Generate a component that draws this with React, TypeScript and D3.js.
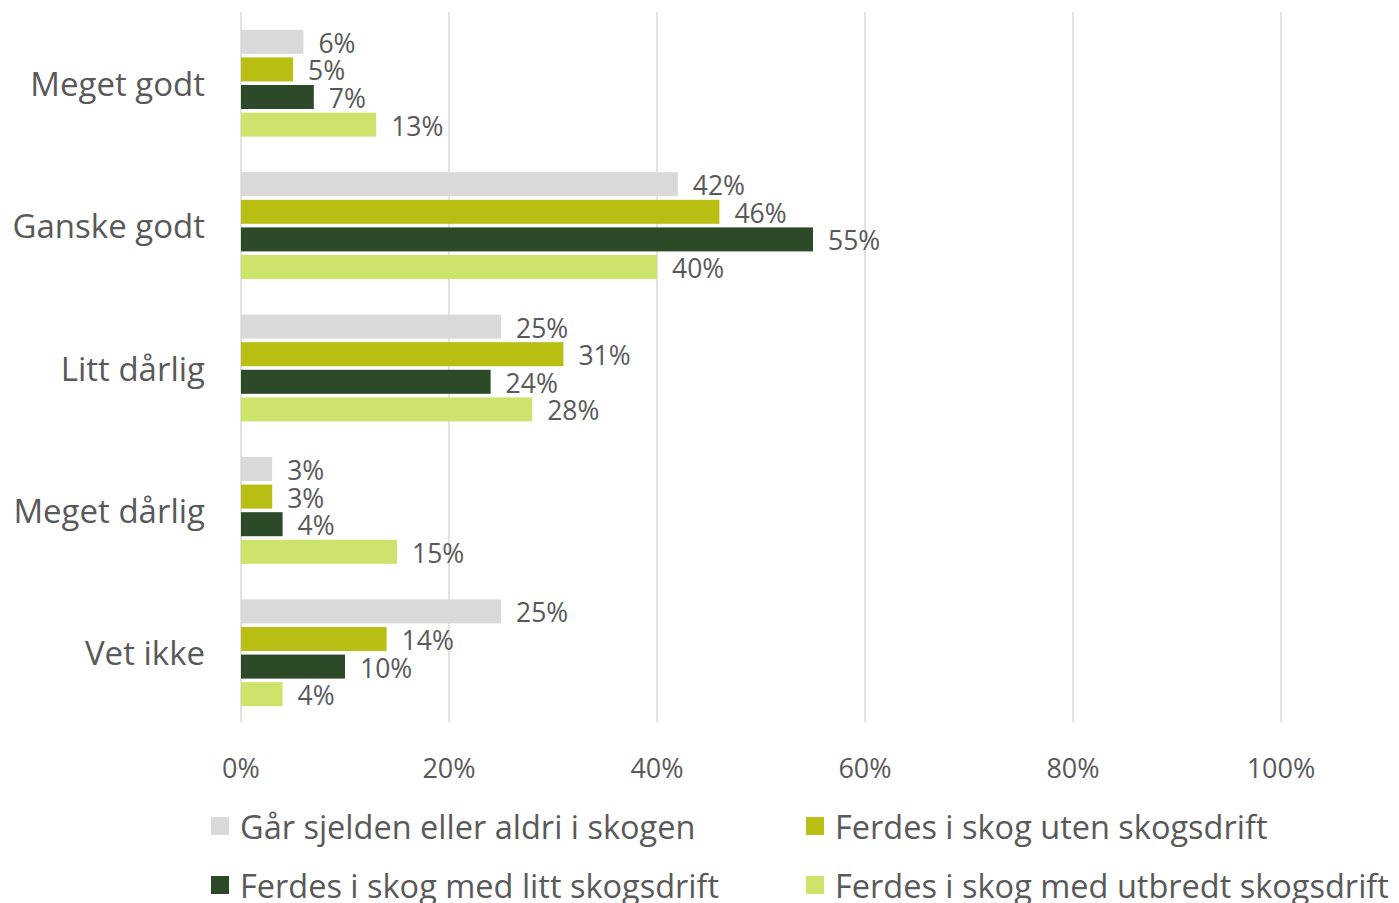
import React, { useEffect, useRef } from 'react'
import * as d3 from 'd3'

const categories = ['Meget godt', 'Ganske godt', 'Litt dårlig', 'Meget dårlig', 'Vet ikke']
const seriesNames = [
  'Går sjelden eller aldri i skogen',
  'Ferdes i skog uten skogsdrift',
  'Ferdes i skog med litt skogsdrift',
  'Ferdes i skog med utbredt skogsdrift',
]
const sjelden = [6, 42, 25, 3, 25]
const utenDrift = [5, 46, 31, 3, 14]
const littDrift = [7, 55, 24, 4, 10]
const utbredtDrift = [13, 40, 28, 15, 4]
const xTicks = [0, 20, 40, 60, 80, 100]

const colors = ['#d9d9d9', '#b8bf12', '#2d4a28', '#cde36c']
const font = '"Open Sans", sans-serif'
const textColor = '#595959'

export default function App() {
  const svgRef = useRef<SVGSVGElement>(null)

  useEffect(() => {
    document.body.style.margin = '0'
    const svg = d3.select(svgRef.current)
    svg.selectAll('*').remove()

    const values = [sjelden, utenDrift, littDrift, utbredtDrift]
    const left = 241
    const right = 1281
    const top = 12
    const bottom = 724

    const x = d3.scaleLinear().domain([0, 100]).range([left, right])
    const y = d3.scaleBand<string>().domain(categories).range([top, bottom])
    const inner = d3
      .scaleBand<string>()
      .domain(seriesNames)
      .range([0, y.bandwidth()])
      .paddingInner(0.13)
      .paddingOuter(0.645)

    // grid
    svg
      .append('g')
      .selectAll('line')
      .data(xTicks)
      .join('line')
      .attr('x1', (d) => x(d))
      .attr('x2', (d) => x(d))
      .attr('y1', top)
      .attr('y2', bottom - 2)
      .attr('stroke', '#d9d9d9')
      .attr('stroke-width', 1.5)

    // x tick labels
    svg
      .append('g')
      .selectAll('text')
      .data(xTicks)
      .join('text')
      .attr('x', (d) => x(d))
      .attr('y', 767)
      .attr('text-anchor', 'middle')
      .attr('dominant-baseline', 'central')
      .attr('font-family', font)
      .attr('font-size', 27)
      .attr('fill', textColor)
      .text((d) => d + '%')

    // category labels
    svg
      .append('g')
      .selectAll('text')
      .data(categories)
      .join('text')
      .attr('x', 205)
      .attr('y', (d) => (y(d) as number) + y.bandwidth() / 2)
      .attr('text-anchor', 'end')
      .attr('dominant-baseline', 'central')
      .attr('font-family', font)
      .attr('font-size', 33)
      .attr('fill', textColor)
      .text((d) => d)

    // bars + labels
    seriesNames.forEach((name, si) => {
      const rows = categories.map((c, ci) => ({ c, v: values[si][ci] }))
      const g = svg.append('g')
      g.selectAll('rect')
        .data(rows)
        .join('rect')
        .attr('x', x(0))
        .attr('y', (d) => (y(d.c) as number) + (inner(name) as number))
        .attr('width', (d) => x(d.v) - x(0))
        .attr('height', inner.bandwidth())
        .attr('fill', colors[si])
      g.selectAll('text')
        .data(rows)
        .join('text')
        .attr('x', (d) => x(d.v) + 15)
        .attr('y', (d) => (y(d.c) as number) + (inner(name) as number) + inner.bandwidth() / 2 + 1)
        .attr('dominant-baseline', 'central')
        .attr('font-family', font)
        .attr('font-size', 26.5)
        .attr('fill', textColor)
        .text((d) => d.v + '%')
    })

    // legend
    const legendPos = [
      { x: 211, y: 826 },
      { x: 806, y: 826 },
      { x: 211, y: 885 },
      { x: 806, y: 885 },
    ]
    const lg = svg
      .append('g')
      .selectAll('g')
      .data(seriesNames)
      .join('g')
      .attr('transform', (d, i) => `translate(${legendPos[i].x},${legendPos[i].y})`)
    lg.append('rect')
      .attr('x', 0)
      .attr('y', -9)
      .attr('width', 18)
      .attr('height', 18)
      .attr('fill', (d, i) => colors[i])
    lg.append('text')
      .attr('x', 29)
      .attr('y', 0)
      .attr('dominant-baseline', 'central')
      .attr('font-family', font)
      .attr('font-size', 32.5)
      .attr('fill', textColor)
      .text((d) => d)
  }, [])

  return (
    <svg
      ref={svgRef}
      width={1399}
      height={903}
      style={{ position: 'absolute', left: 0, top: 0, background: '#fff' }}
    />
  )
}
